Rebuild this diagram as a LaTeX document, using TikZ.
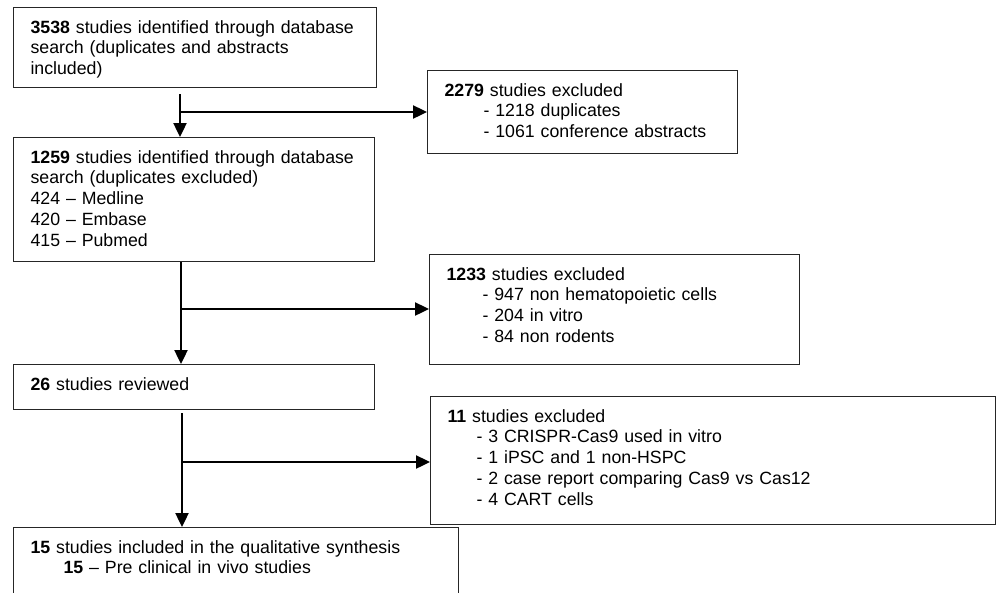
\documentclass[tikz,border=0pt]{standalone}
\usepackage{fontspec}
\setmainfont{Liberation Sans}
\usetikzlibrary{arrows.meta}

\begin{document}
\begin{tikzpicture}[x=0.75pt,y=0.75pt,yscale=-1,xscale=1,
  box/.style={draw=black!85, line width=0.8pt, anchor=north west, align=left, inner xsep=12.75pt, inner ysep=0pt, text height=19.1pt, font=\fontsize{13.3}{15.6}\selectfont},
  flow/.style={line width=1.8pt, -{Triangle[length=10.5pt,width=9.75pt]}}]
\useasboundingbox (0,0) rectangle (997,593);
\clip (0,0) rectangle (997,593);

%Shape: Rectangle (identified)
\node [box, text width=246.75pt, text depth=40.9pt] (id1) at (13,7) {\textbf{3538} studies identified through database\\search (duplicates and abstracts\\included)};
%Shape: Rectangle (duplicates excluded)
\node [box, text width=245.25pt, text depth=73.9pt] (id2) at (13,137) {\textbf{1259} studies identified through database\\search (duplicates excluded)\\424 – Medline\\420 – Embase\\415 – Pubmed};
%Shape: Rectangle (reviewed)
\node [box, text width=245.25pt, text depth=14.6pt] (rev) at (13,364) {\textbf{26} studies reviewed};
%Shape: Rectangle (included)
\node [box, text width=308.25pt, text depth=56pt] (incl) at (13,527) {\textbf{15} studies included in the qualitative synthesis\\\hspace*{24.75pt}\textbf{15} – Pre clinical in vivo studies};

%Shape: Rectangle (excluded 1)
\node [box, text width=207pt, text depth=43.1pt] (ex1) at (427,70) {\textbf{2279} studies excluded\\\hspace*{29.25pt}- 1218 duplicates\\\hspace*{29.25pt}- 1061 conference abstracts};
%Shape: Rectangle (excluded 2)
\node [box, text width=252pt, text depth=63.4pt] (ex2) at (429,254) {\textbf{1233} studies excluded\\\hspace*{27pt}- 947 non hematopoietic cells\\\hspace*{27pt}- 204 in vitro\\\hspace*{27pt}- 84 non rodents};
%Shape: Rectangle (excluded 3)
\node [box, text width=398.25pt, text depth=76.9pt] (ex3) at (430,396) {\textbf{11} studies excluded\\\hspace*{21.75pt}- 3 CRISPR-Cas9 used in vitro\\\hspace*{21.75pt}- 1 iPSC and 1 non-HSPC\\\hspace*{21.75pt}- 2 case report comparing Cas9 vs Cas12\\\hspace*{21.75pt}- 4 CART cells};

%Straight Lines
\coordinate (j1) at (180,112);
\coordinate (j2) at (181,309);
\coordinate (j3) at (182,462);
\draw [flow, shorten <=4.5pt] (id1.south -| j1) -- (id2.north -| j1);
\draw [flow] (j1) -- (j1 -| ex1.west);
\draw [flow] (id2.south -| j2) -- (rev.north -| j2);
\draw [flow] (j2) -- (j2 -| ex2.west);
\draw [flow, shorten <=2.25pt] (rev.south -| j3) -- (incl.north -| j3);
\draw [flow] (j3) -- (j3 -| ex3.west);

\end{tikzpicture}
\end{document}
